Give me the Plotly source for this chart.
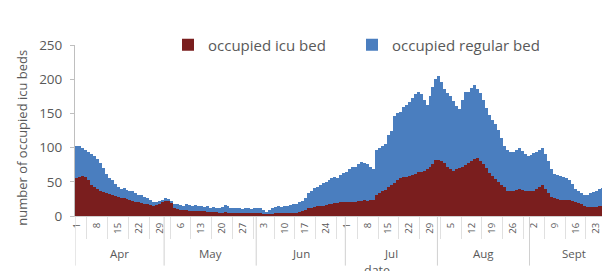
import plotly.graph_objects as go

# ---------------- data (daily, Apr 1 .. Sept 25) ----------------
months = ["Apr", "May", "Jun", "Jul", "Aug", "Sept"]
month_days = [30, 31, 30, 31, 31, 30]

icu_apr = [55, 57, 58, 57, 52, 46, 42, 39, 37, 35, 33, 32, 30, 29, 28, 27, 26, 25, 24, 22,
           21, 20, 19, 18, 17, 16, 15, 16, 18, 21]
icu_may = [22, 22, 19, 11, 10, 9, 9, 9, 8, 8, 8, 7, 7, 7, 6, 6, 6, 6, 5, 5,
           6, 5, 5, 5, 5, 4, 4, 4, 4, 4, 4]
icu_jun = [4, 4, 3, 3, 3, 3, 4, 4, 4, 4, 4, 5, 5, 5, 6, 7, 9, 11, 12, 13,
           14, 15, 15, 16, 17, 18, 19, 19, 20, 20]
icu_jul = [20, 21, 21, 20, 22, 22, 23, 22, 23, 24, 30, 33, 36, 38, 42, 45, 48, 52, 55, 57,
           57, 59, 60, 62, 64, 65, 66, 68, 72, 76, 82]
icu_aug = [82, 80, 77, 72, 68, 66, 68, 70, 72, 75, 78, 80, 84, 85, 80, 76, 70, 63, 58, 54,
           50, 45, 42, 37, 36, 37, 38, 39, 38, 37, 37]
icu_sep = [36, 37, 39, 43, 45, 40, 33, 28, 26, 25, 24, 24, 23, 23, 22, 20, 19, 17, 15, 13,
           13, 13, 13, 14, 14]

reg_apr = [47, 45, 42, 40, 42, 44, 45, 44, 41, 35, 29, 24, 22, 18, 15, 13, 15, 13, 12, 15,
           12, 10, 12, 10, 9, 8, 6, 4, 4, 3]
reg_may = [4, 3, 3, 6, 8, 7, 6, 8, 8, 7, 8, 7, 8, 6, 8, 6, 7, 6, 6, 8,
           10, 9, 7, 6, 7, 7, 6, 8, 7, 6, 7]
reg_jun = [8, 7, 6, 3, 6, 9, 9, 10, 9, 11, 10, 11, 12, 13, 14, 15, 17, 22, 25, 28,
           29, 31, 33, 34, 36, 37, 38, 37, 40, 43]
reg_jul = [45, 47, 50, 52, 54, 57, 55, 54, 49, 45, 66, 66, 66, 67, 76, 80, 98, 98, 97, 103,
           106, 107, 112, 116, 117, 113, 104, 94, 104, 112, 118]
reg_aug = [122, 116, 108, 108, 108, 102, 93, 87, 98, 106, 104, 107, 107, 101, 100, 94, 88, 84, 82, 80,
           76, 69, 61, 59, 57, 57, 59, 60, 57, 53, 51]
reg_sep = [53, 55, 55, 54, 54, 50, 47, 40, 36, 35, 34, 33, 32, 29, 25, 20, 17, 16, 16, 17,
           20, 22, 23, 25, 27]

icu = icu_apr + icu_may + icu_jun + icu_jul + icu_aug + icu_sep
regular = reg_apr + reg_may + reg_jun + reg_jul + reg_aug + reg_sep
day_idx = list(range(len(icu)))

# day-of-month for each index, weekly tick labels
dom = []
for m, n in zip(months, month_days):
    dom += list(range(1, n + 1))
tick_vals = list(range(0, len(dom), 7))
tick_text = [str(dom[i]) for i in tick_vals]

month_start = []
s = 0
for n in month_days:
    month_start.append(s)
    s += n

ICU_COLOR = "#7a1e1e"
REG_COLOR = "#4a7ebf"
TXT = "#595959"
FONT = "Open Sans"

fig = go.Figure()
fig.add_trace(go.Bar(x=day_idx, y=icu, name="occupied icu bed", width=1, legend="legend",
                     marker=dict(color=ICU_COLOR, line=dict(width=0))))
fig.add_trace(go.Bar(x=day_idx, y=regular, name="occupied regular bed", width=1, legend="legend2",
                     marker=dict(color=REG_COLOR, line=dict(width=0))))

# month separators and labels
shapes = []
for ms in month_start:
    shapes.append(dict(type="line", xref="x", yref="paper", x0=ms - 0.5, x1=ms - 0.5,
                       y0=0, y1=-0.29, line=dict(color="#d0d0d0", width=1)))
annotations = []
for m, ms, n in zip(months, month_start, month_days):
    annotations.append(dict(x=ms - 0.5 + n / 2, y=-0.222, xref="x", yref="paper",
                            text=m, showarrow=False, font=dict(family=FONT, size=11.5, color=TXT),
                            xanchor="center", yanchor="middle"))
annotations.append(dict(x=101, y=-0.26, xref="x", yref="paper", text="date",
                        showarrow=False, font=dict(family=FONT, size=12.5, color=TXT),
                        xanchor="center", yanchor="top"))
annotations.append(dict(x=-0.1, y=0.46, xref="paper", yref="paper",
                        text="number of occupied icu beds", showarrow=False, textangle=-90,
                        font=dict(family=FONT, size=13, color=TXT), xanchor="center", yanchor="middle"))

legend_common = dict(orientation="h", y=1.0, xanchor="left", yanchor="middle",
                     font=dict(family=FONT, size=15, color=TXT), bgcolor="rgba(0,0,0,0)",
                     itemwidth=30)

fig.update_layout(
    width=602, height=271,
    margin=dict(l=75, r=0, t=45, b=55, autoexpand=False),
    barmode="stack", bargap=0,
    plot_bgcolor="white", paper_bgcolor="white",
    font=dict(family=FONT, size=12, color=TXT),
    showlegend=True,
    legend=dict(x=(168 - 75) / 527, **legend_common),
    legend2=dict(x=(352 - 75) / 527, **legend_common),
    shapes=shapes, annotations=annotations,
)
fig.update_xaxes(range=[-0.5, 176.9], tickmode="array", tickvals=tick_vals, ticktext=tick_text,
                 tickangle=-90, tickfont=dict(family=FONT, size=9.5, color=TXT),
                 showgrid=False, zeroline=False, showline=True, linecolor="#d0d0d0", linewidth=1,
                 ticks="", ticklabelstandoff=2, automargin=False, ticklabeloverflow="allow",
                 minor=dict(tickmode="linear", tick0=3.5, dtick=7, ticks="outside",
                            ticklen=22, tickcolor="#e0e0e0", tickwidth=1, showgrid=False))
fig.update_yaxes(range=[0, 250], tickvals=[0, 50, 100, 150, 200, 250],
                 tickfont=dict(family=FONT, size=13.5, color=TXT), automargin=False,
                 showgrid=False, zeroline=False, showline=True, linecolor="#bfbfbf", linewidth=1,
                 ticks="outside", ticklen=4, tickcolor="#bfbfbf", ticklabelstandoff=5)

fig.write_html("out.html", config={"displayModeBar": False},
               post_script="document.body.style.margin='0';document.body.style.overflow='hidden';")
